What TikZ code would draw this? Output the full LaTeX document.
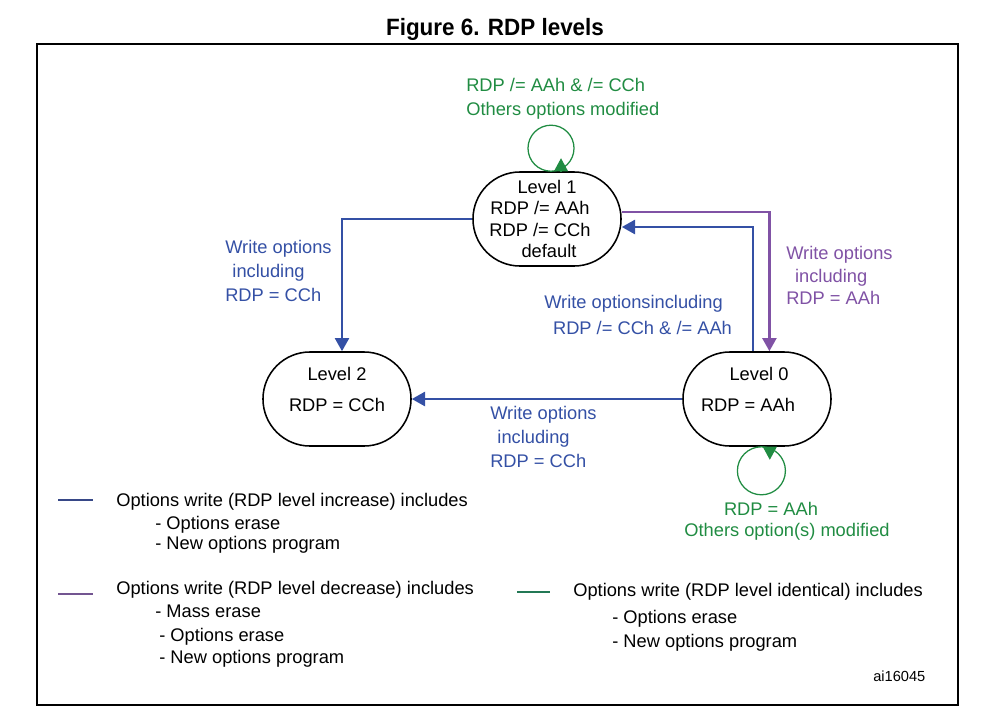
\documentclass[tikz,border=0pt]{standalone}
\usepackage{fontspec}
\setmainfont{Liberation Sans}
\usepackage{xcolor}
\usetikzlibrary{shapes, positioning, arrows.meta}

\definecolor{incblue}{RGB}{52,80,165}
\definecolor{decpurple}{RGB}{128,82,165}
\definecolor{idgreen}{RGB}{32,140,66}
\definecolor{incleg}{RGB}{55,72,135}
\definecolor{decleg}{RGB}{115,85,145}
\definecolor{idleg}{RGB}{35,120,85}

\begin{document}
\begin{tikzpicture}[x=0.025cm, y=-0.025cm,
    every node/.style={font=\fontsize{13}{17}\selectfont, inner sep=0pt},
    level/.style={draw, line width=1.1pt, rectangle, rounded corners=1.175cm,
      minimum width=3.7cm, minimum height=2.35cm, align=center,
      font=\fontsize{13}{15}\selectfont},
    txt/.style={anchor=north west, align=left},
    tip/.style={-{Triangle[width=0.35cm,length=0.33cm]}},
    inc/.style={draw=incblue, line width=1.8pt, tip},
    dec/.style={draw=decpurple, line width=1.8pt, tip},
    same/.style={draw=idgreen, line width=0.9pt}]
      \useasboundingbox (0,0) rectangle (984,709);
      \node[font=\bfseries\fontsize{16.8}{20}\selectfont, anchor=base] (title) at (495,36) {\scalebox{0.95}[1]{Figure 6. RDP levels}};
      \draw[line width=1pt] (37,44) rectangle (958,705);

      \node[level] (L1) at (547,219) {Level 1\\RDP /= AAh\hspace*{.35cm}\mbox{}\\RDP /= CCh\hspace*{.35cm}\mbox{}\\\hspace*{0.1cm}default};
      \node[level, text depth=0.475cm] (L2) at (337,399) {Level 2\\[0.25cm]RDP = CCh};
      \node[level, text depth=0.475cm] (L0) at (757,399) {\hspace*{0.1cm}Level 0\\[0.25cm]RDP = AAh\hspace*{0.45cm}\mbox{}};

      \draw[inc] (L1.west) -| ([xshift=0.125cm]L2.north);
      \draw[inc] ([xshift=-0.1cm]L0.north) |- ([yshift=-0.2cm]L1.east);
      \draw[dec] ([yshift=0.175cm]L1.east) -| ([xshift=0.31cm]L0.north);
      \draw[inc] (L0.west) -- (L2.east);

      \draw[same] ([xshift=0.1cm]L1.north) arc[start angle=-90, end angle=270, radius=0.575cm];
      \draw[same, tip] ([xshift=0.35cm]L1.north) -- ++(0,-13);
      \draw[same] ([xshift=0.11cm]L0.south) arc[start angle=90, end angle=450, radius=0.6cm];
      \draw[same, tip] ([xshift=0.32cm]L0.south) -- ++(0,13);

      \node[txt, text=incblue] (wl) at (225,240) {Write options\\\hspace*{0.18cm}including\\RDP = CCh};
      \node[txt, text=incblue] (wm) at (544,295) {Write optionsincluding\\[0.05cm]\hspace*{0.22cm}RDP /= CCh \& /= AAh};
      \node[txt, text=decpurple] (wr) at (786,246) {Write options\\[-0.03cm]\hspace*{0.22cm}including\\[-0.03cm]RDP = AAh};
      \node[txt, text=incblue] (wb) at (490,406) {Write options\\\hspace*{0.18cm}including\\RDP = CCh};
      \node[txt, text=idgreen] (gt) at (466,78) {RDP /= AAh \& /= CCh\\Others options modified};
      \node[anchor=north, align=center, text=idgreen] (gb) at (787,502) {RDP = AAh\hspace*{0.8cm}\mbox{}\\[-0.075cm]Others option(s) modified};

      \draw[incleg, line width=1.2pt] (58,500) -- (93,500);
      \node[txt] (li) at (116,493) {Options write (RDP level increase) includes\\[-0.03cm]\hspace*{0.975cm}- Options erase\\[-0.1cm]\hspace*{0.975cm}- New options program};
      \draw[decleg, line width=1.2pt] (58,594) -- (93,594);
      \node[txt] (ld) at (116,581) {Options write (RDP level decrease) includes\\[-0.03cm]\hspace*{0.975cm}- Mass erase\\\hspace*{1.075cm}- Options erase\\[-0.03cm]\hspace*{1.075cm}- New options program};
      \draw[idleg, line width=1.2pt] (517,592) -- (550,592);
      \node[txt] (ls) at (573,583) {Options write (RDP level identical) includes\\[0.075cm]\hspace*{0.975cm}- Options erase\\\hspace*{0.975cm}- New options program};
      \node[anchor=west, font=\fontsize{10.4}{12}\selectfont] (id) at (873,676) {ai16045};

    \end{tikzpicture}
\end{document}
